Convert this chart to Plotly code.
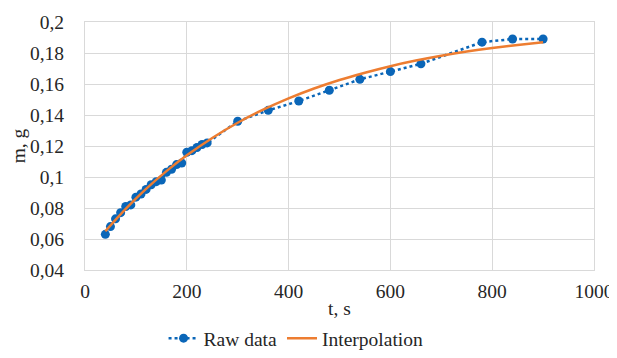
import plotly.graph_objects as go

t_raw = [40, 50, 60, 70, 80, 90, 100, 110, 120, 130, 140, 150, 160, 170, 180, 190,
         200, 210, 220, 230, 240, 300, 360, 420, 480, 540, 600, 660, 780, 840, 900]
m_raw = [0.063, 0.068, 0.073, 0.077, 0.081, 0.082, 0.087, 0.089, 0.092, 0.095, 0.097,
         0.098, 0.103, 0.105, 0.108, 0.109, 0.116, 0.117, 0.119, 0.121, 0.122,
         0.136, 0.143, 0.149, 0.156, 0.163, 0.168, 0.173, 0.187, 0.189, 0.189]

t_fit = [40, 80, 120, 160, 200, 250, 300, 350, 400, 450, 500, 550, 600, 650, 700,
         750, 800, 850, 900]
m_fit = [0.0650, 0.0794, 0.0923, 0.1038, 0.1140, 0.1252, 0.1350, 0.1434, 0.1507,
         0.1571, 0.1626, 0.1673, 0.1715, 0.1751, 0.1782, 0.1809, 0.1832, 0.1852, 0.1870]

x_ticks = [0, 200, 400, 600, 800, 1000]
y_ticks = [0.04, 0.06, 0.08, 0.1, 0.12, 0.14, 0.16, 0.18, 0.2]
y_labels = ["0,04", "0,06", "0,08", "0,1", "0,12", "0,14", "0,16", "0,18", "0,2"]

font = "Times New Roman, Liberation Serif, serif"
blue = "#0a66b8"
orange = "#ed7d31"
grid = "#d9d9d9"
txt = dict(family=font, size=19.5, color="#262626")

fig = go.Figure()
fig.add_trace(go.Scatter(x=t_raw, y=m_raw, mode="lines+markers", name="Raw data",
                         line=dict(color=blue, width=2.5, dash="dot"),
                         marker=dict(color=blue, size=9)))
fig.add_trace(go.Scatter(x=t_fit, y=m_fit, mode="lines", name="Interpolation",
                         line=dict(color=orange, width=2.5, shape="spline")))

fig.update_layout(
    width=609, height=350,
    margin=dict(l=77, r=23, t=14, b=88),
    paper_bgcolor="white", plot_bgcolor="white",
    font=txt,
    separators=",.",
    showlegend=True,
    legend=dict(orientation="h", xref="container", x=0.473, xanchor="center",
                yref="container", y=-0.04, yanchor="bottom",
                font=txt, itemwidth=30),
    xaxis=dict(range=[0, 1000], tickvals=x_ticks, showgrid=True, gridcolor=grid,
               gridwidth=1, zeroline=False, showline=True, linecolor=grid, mirror=True,
               ticks="", automargin=False, tickfont=txt, ticklabelstandoff=4,
               title=dict(text="t, s", standoff=8, font=txt)),
    yaxis=dict(range=[0.04, 0.2], tickvals=y_ticks, ticktext=y_labels, showgrid=True,
               gridcolor=grid, gridwidth=1, zeroline=False, showline=True,
               linecolor=grid, mirror=True, ticks="", automargin=False, tickfont=txt,
               ticklabelstandoff=16,
               title=dict(text="m, g", standoff=0, font=txt)),
)

fig.write_html("out.html")
